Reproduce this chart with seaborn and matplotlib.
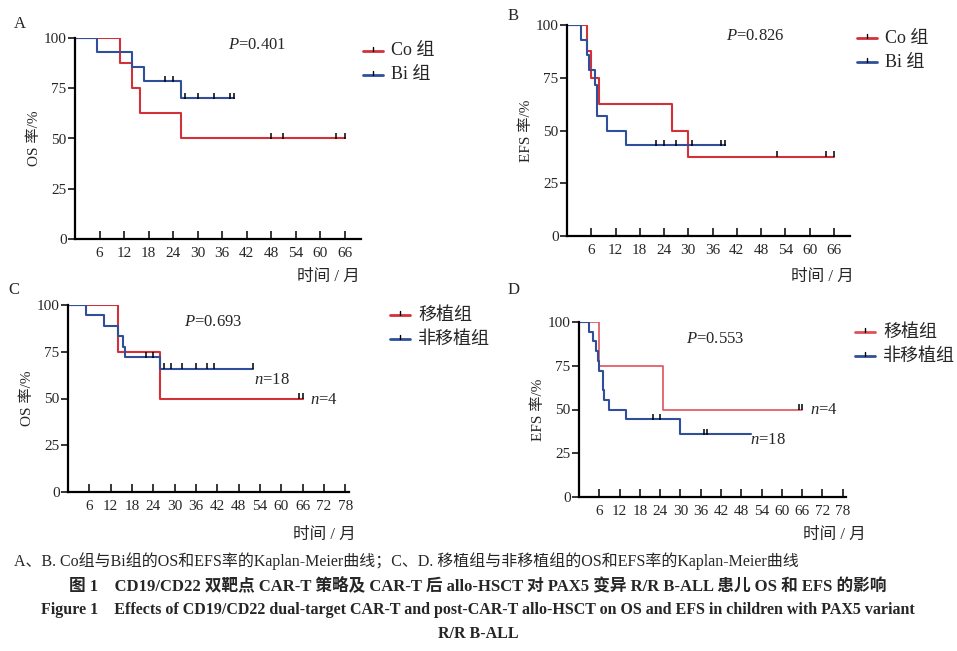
import numpy as np
import pandas as pd
import matplotlib
matplotlib.use('Agg')
import matplotlib.pyplot as plt
from matplotlib.lines import Line2D
import seaborn as sns

sns.set_theme(style='white')
FONT = ['Liberation Serif', 'Noto Sans CJK SC', 'DejaVu Sans']
plt.rcParams['font.family'] = FONT
plt.rcParams['mathtext.fontset'] = 'custom'
plt.rcParams['mathtext.it'] = 'Liberation Serif:italic'
plt.rcParams['mathtext.rm'] = 'Liberation Serif'

RED = '#d3313a'
BLUE = '#2f4f9a'

# 面板 A: OS, Co组 vs Bi组
a_co_t = [0, 11, 14, 16, 26, 66]
a_co_s = [100, 87.5, 75, 62.5, 50, 50]
a_co_cens = [48, 51, 64, 66]
a_bi_t = [0, 5.5, 14, 17, 26, 39]
a_bi_s = [100, 92.9, 85.7, 78.6, 70, 70]
a_bi_cens = [22, 24, 27, 30, 34, 38, 39]

# 面板 B: EFS, Co组 vs Bi组
b_co_t = [0, 5, 6, 8, 26, 30, 66]
b_co_s = [100, 87.5, 75, 62.5, 50, 37.5, 37.5]
b_co_cens = [52, 64, 66]
b_bi_t = [0, 3.5, 5, 5.5, 7, 7.5, 10, 14.5, 39]
b_bi_s = [100, 92.9, 85.7, 78.6, 71.4, 57.1, 50, 42.9, 42.9]
b_bi_cens = [22, 24, 27, 31, 38, 39]

# 面板 C: OS, 移植组 vs 非移植组
c_tx_t = [0, 14, 26, 66]
c_tx_s = [100, 75, 50, 50]
c_tx_cens = [65, 66]
c_no_t = [0, 5, 10, 14, 15.5, 16, 26, 52]
c_no_s = [100, 94.4, 88.9, 83.3, 77.8, 72.2, 66, 66]
c_no_cens = [22, 24, 27, 29, 32, 36, 39, 41, 52]

# 面板 D: EFS, 移植组 vs 非移植组
d_tx_t = [0, 6, 25, 66]
d_tx_s = [100, 75, 50, 50]
d_tx_cens = [65, 66]
d_no_t = [0, 3, 4, 5, 5.5, 6, 7, 7.5, 9, 14, 30, 51]
d_no_s = [100, 94.4, 88.9, 83.3, 77.8, 72.2, 61.1, 55.6, 50, 44.4, 36, 36]
d_no_cens = [22, 24, 37, 38]


def km(ax, t, s, cens, color, lw=1.5):
    df = pd.DataFrame({'t': t, 's': s})
    sns.lineplot(data=df, x='t', y='s', ax=ax, color=color, lw=lw,
                 drawstyle='steps-post', estimator=None, sort=False)
    cs = [s[np.searchsorted(t, c, side='right') - 1] for c in cens]
    ax.plot(cens, np.array(cs) + 1.2, ls='none', marker='|', ms=5, mew=1.1,
            color='black')


def style(ax, xmax, xticks, ylab):
    ax.set_xlim(0, xmax)
    ax.set_ylim(0, 100)
    ax.set_xticks(xticks)
    ax.set_yticks([0, 25, 50, 75, 100])
    ax.tick_params(axis='x', direction='in', length=6, width=1.3, labelsize=11, pad=6,
                   bottom=True)
    ax.tick_params(axis='y', direction='out', length=5, width=1.3, labelsize=11, pad=1,
                   left=True)
    for sp in ['top', 'right']:
        ax.spines[sp].set_visible(False)
    for sp in ['left', 'bottom']:
        ax.spines[sp].set_color('black')
        ax.spines[sp].set_linewidth(1.6)
    ax.set_xlabel('')
    ax.set_ylabel(ylab, fontsize=11, labelpad=2)
    ax.set_facecolor('white')


fig = plt.figure(figsize=(9.57, 6.51), dpi=100)
W, H = 957, 651


def add_ax(x0, y0, x1, y1):
    return fig.add_axes([x0 / W, 1 - y1 / H, (x1 - x0) / W, (y1 - y0) / H])


axA = add_ax(75, 38, 361, 239)
axB = add_ax(567, 25, 850, 236)
axC = add_ax(68, 305, 349, 492)
axD = add_ax(579, 322, 846, 497)

ticks66 = list(range(6, 67, 6))
ticks78 = list(range(6, 79, 6))

km(axA, a_co_t, a_co_s, a_co_cens, RED)
km(axA, a_bi_t, a_bi_s, a_bi_cens, BLUE)
style(axA, 70, ticks66, 'OS 率/%')
km(axB, b_co_t, b_co_s, b_co_cens, RED)
km(axB, b_bi_t, b_bi_s, b_bi_cens, BLUE)
style(axB, 70, ticks66, 'EFS 率/%')
km(axC, c_tx_t, c_tx_s, c_tx_cens, RED)
km(axC, c_no_t, c_no_s, c_no_cens, BLUE)
style(axC, 79, ticks78, 'OS 率/%')
km(axD, d_tx_t, d_tx_s, d_tx_cens, '#e0505a', lw=1.2)
km(axD, d_no_t, d_no_s, d_no_cens, BLUE)
style(axD, 79, ticks78, 'EFS 率/%')


def ftext(x, y, s, **kw):
    fig.text(x / W, 1 - y / H, s, **kw)


ftext(14, 28, 'A', fontsize=12)
ftext(508, 20, 'B', fontsize=12)
ftext(8, 294, 'C', fontsize=12)
ftext(508, 294, 'D', fontsize=12)

ftext(228, 45, '$P$=0.401', fontsize=12, va='center')
ftext(726, 36, '$P$=0.826', fontsize=12, va='center')
ftext(184, 322, '$P$=0.693', fontsize=12, va='center')
ftext(686, 339, '$P$=0.553', fontsize=12, va='center')

for x, y in [(297, 277), (791, 277), (293, 535), (803, 535)]:
    ftext(x, y, '时间 / 月', fontsize=12, va='center')

ftext(254, 380, '$n$=18', fontsize=12, va='center')
ftext(310, 400, '$n$=4', fontsize=12, va='center')
ftext(810, 410, '$n$=4', fontsize=12, va='center')
ftext(750, 440, '$n$=18', fontsize=12, va='center')


def leg(x, y, items):
    for i, (lab, col) in enumerate(items):
        yy = y + i * 24
        fig.add_artist(Line2D([x / W, (x + 20) / W], [1 - yy / H, 1 - yy / H],
                              color=col, lw=2))
        fig.add_artist(Line2D([(x + 10) / W] * 2, [1 - yy / H, 1 - (yy - 4) / H],
                              color='black', lw=1))
        ftext(x + 28, yy, lab, fontsize=13, va='center')


leg(363, 51, [('Co 组', RED), ('Bi 组', BLUE)])
leg(857, 38, [('Co 组', RED), ('Bi 组', BLUE)])
leg(390, 315, [('移植组', RED), ('非移植组', BLUE)])
leg(855, 332, [('移植组', '#e0505a'), ('非移植组', BLUE)])

ftext(14, 561, 'A、B. Co组与Bi组的OS和EFS率的Kaplan-Meier曲线；C、D. 移植组与非移植组的OS和EFS率的Kaplan-Meier曲线',
      fontsize=11.5, va='center')
ftext(478, 586, '图 1    CD19/CD22 双靶点 CAR-T 策略及 CAR-T 后 allo-HSCT 对 PAX5 变异 R/R B-ALL 患儿 OS 和 EFS 的影响',
      fontsize=12, fontweight='bold', ha='center', va='center')
ftext(478, 610, 'Figure 1    Effects of CD19/CD22 dual-target CAR-T and post-CAR-T allo-HSCT on OS and EFS in children with PAX5 variant',
      fontsize=11.5, fontweight='bold', ha='center', va='center')
ftext(478, 634, 'R/R B-ALL', fontsize=11.5, fontweight='bold', ha='center', va='center')

fig.savefig('out.png', dpi=100, facecolor='white')
